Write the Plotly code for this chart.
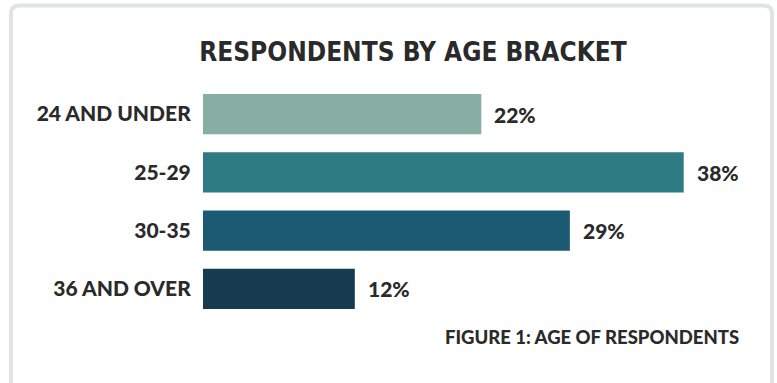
import plotly.graph_objects as go

categories = ["24 AND UNDER", "25-29", "30-35", "36 AND OVER"]
values = [22, 38, 29, 12]
value_labels = ["22%", "38%", "29%", "12%"]
colors = ["#88ada4", "#2e7b83", "#1b5a72", "#163a50"]

W, H = 777, 383
ML, MR, MT, MB = 203, 68, 85, 65
PW, PH = W - ML - MR, H - MT - MB
LABEL_FONT = dict(family="Lato", size=21, color="#2a2a2a", weight=900)

def px(x):
    return (x - ML) / PW

def py(y):
    return 1 - (y - MT) / PH

fig = go.Figure()
fig.add_trace(go.Bar(
    x=values, y=categories, orientation="h",
    marker=dict(color=colors, line=dict(width=0)),
    hoverinfo="skip",
))

for c, v, t in zip(categories, values, value_labels):
    fig.add_annotation(x=v, y=c, text=t, showarrow=False, xanchor="left",
                       xshift=11, font=LABEL_FONT)

# rounded card border
l, t, r, b, rad = 11, 5.5, 772, 400, 8
rx, ry = rad / PW, rad / PH
path = (f"M {px(l)},{py(b)} L {px(l)},{py(t)-ry} Q {px(l)},{py(t)} {px(l)+rx},{py(t)} "
        f"L {px(r)-rx},{py(t)} Q {px(r)},{py(t)} {px(r)},{py(t)-ry} L {px(r)},{py(b)}")
fig.add_shape(type="path", path=path, xref="paper", yref="paper",
              line=dict(color="#dfe5e4", width=4), layer="below")

fig.add_annotation(text="FIGURE 1: AGE OF RESPONDENTS", xref="paper", yref="paper",
                   x=px(741), y=py(337), xanchor="right", yanchor="middle", showarrow=False,
                   font=dict(family="Lato", size=18.5, color="#2a2a2a", weight=900))

fig.update_layout(
    width=W, height=H,
    margin=dict(l=ML, r=MR, t=MT, b=MB),
    paper_bgcolor="white", plot_bgcolor="white",
    title=dict(text="RESPONDENTS BY AGE BRACKET", xref="container", x=413 / W, xanchor="center",
               yref="container", y=1 - 52 / H, yanchor="middle",
               font=dict(family="DejaVu Sans Condensed", size=26, color="#2a2a2a", weight="bold")),
    bargap=0.31,
    showlegend=False,
    xaxis=dict(range=[0, 40], visible=False, fixedrange=True),
    yaxis=dict(categoryorder="array", categoryarray=categories[::-1], autorange=False,
               range=[-0.5, 3.5],
               showgrid=False, zeroline=False, showline=False,
               ticks="outside", ticklen=7, tickcolor="rgba(0,0,0,0)",
               tickfont=LABEL_FONT),
)

fig.write_html("out.html")
